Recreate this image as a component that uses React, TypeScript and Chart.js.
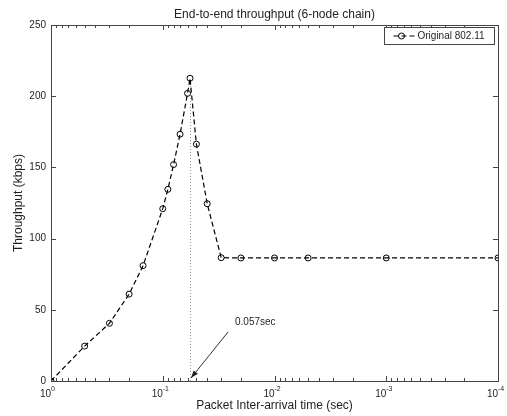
import React, { useEffect, useRef } from 'react';
import { Chart, registerables } from 'chart.js';

Chart.register(...registerables);

// ---- data ----
const chartTitle = 'End-to-end throughput (6-node chain)';
const xAxisLabel = 'Packet Inter-arrival time (sec)';
const yAxisLabel = 'Throughput (kbps)';
const seriesLabel = 'Original 802.11';
const interArrival = [1, 0.5, 0.3, 0.2, 0.15, 0.1, 0.09, 0.08, 0.07, 0.06, 0.057, 0.05, 0.04, 0.03, 0.02, 0.01, 0.005, 0.001, 0.0001];
const throughput = [0, 24.5, 40.5, 61, 81, 121, 134.6, 152, 173.3, 202, 212.6, 166.3, 124.5, 86.6, 86.4, 86.4, 86.4, 86.4, 86.4];
const yTickValues = [0, 50, 100, 150, 200, 250];
const xDecadeExponents = [0, -1, -2, -3, -4];
const peakTime = 0.057;
const peakThroughput = 212.6;
const peakLabel = '0.057sec';

const FONT = '"Liberation Sans", Arial, Helvetica, sans-serif';
const TEXT = '#1e1e1e';
const AXIS = '#444';

const framePlugin = {
  id: 'matlabFrame',
  beforeDatasetsDraw(chart: any) {
    const { ctx, chartArea, scales } = chart;
    const x = scales.x, y = scales.y;
    // dotted vertical line at peak
    ctx.save();
    ctx.strokeStyle = '#9a9a9a';
    ctx.lineWidth = 1;
    ctx.setLineDash([1, 2]);
    const px = Math.round(x.getPixelForValue(peakTime)) + 0.5;
    ctx.beginPath();
    ctx.moveTo(px, y.getPixelForValue(0));
    ctx.lineTo(px, y.getPixelForValue(peakThroughput) + 3);
    ctx.stroke();
    ctx.restore();
  },
  afterDraw(chart: any) {
    const { ctx, chartArea, scales } = chart;
    const x = scales.x, y = scales.y;
    const { left, right, top, bottom } = chartArea;
    ctx.save();
    ctx.strokeStyle = AXIS;
    ctx.lineWidth = 1;
    ctx.setLineDash([]);
    // frame
    ctx.strokeRect(Math.round(left) + 0.5, Math.round(top) + 0.5, Math.round(right - left), Math.round(bottom - top));
    // y ticks
    ctx.beginPath();
    for (const v of yTickValues) {
      const py = Math.round(y.getPixelForValue(v)) + 0.5;
      ctx.moveTo(left, py); ctx.lineTo(left + 5, py);
      ctx.moveTo(right, py); ctx.lineTo(right - 5, py);
    }
    // x ticks (major + minor)
    for (const e of xDecadeExponents) {
      const base = Math.pow(10, e);
      const pxm = Math.round(x.getPixelForValue(base)) + 0.5;
      ctx.moveTo(pxm, bottom); ctx.lineTo(pxm, bottom - 5);
      ctx.moveTo(pxm, top); ctx.lineTo(pxm, top + 5);
      if (e > -4) {
        for (let m = 2; m <= 9; m++) {
          const v = m * base / 10;
          const p = Math.round(x.getPixelForValue(v)) + 0.5;
          ctx.moveTo(p, bottom); ctx.lineTo(p, bottom - 3);
          ctx.moveTo(p, top); ctx.lineTo(p, top + 3);
        }
      }
    }
    ctx.stroke();

    // x tick labels 10^k
    ctx.fillStyle = TEXT;
    ctx.textBaseline = 'alphabetic';
    for (const e of xDecadeExponents) {
      const p = x.getPixelForValue(Math.pow(10, e));
      ctx.font = `10px ${FONT}`;
      ctx.textAlign = 'right';
      ctx.fillText('10', p, bottom + 16);
      ctx.font = `7px ${FONT}`;
      ctx.textAlign = 'left';
      ctx.fillText(String(e), p, bottom + 10);
    }

    // title
    ctx.font = `12px ${FONT}`;
    ctx.textAlign = 'center';
    ctx.fillText(chartTitle, (left + right) / 2, top - 7);

    // annotation arrow
    const hx = x.getPixelForValue(peakTime) + 1;
    const hy = y.getPixelForValue(0) - 3;
    const tx = hx + 37, ty = hy - 46;
    ctx.strokeStyle = '#333';
    ctx.beginPath();
    ctx.moveTo(tx, ty); ctx.lineTo(hx, hy);
    ctx.stroke();
    const ang = Math.atan2(hy - ty, hx - tx);
    ctx.fillStyle = '#222';
    ctx.beginPath();
    ctx.moveTo(hx, hy);
    ctx.lineTo(hx - 8 * Math.cos(ang - 0.35), hy - 8 * Math.sin(ang - 0.35));
    ctx.lineTo(hx - 8 * Math.cos(ang + 0.35), hy - 8 * Math.sin(ang + 0.35));
    ctx.closePath();
    ctx.fill();
    ctx.fillStyle = TEXT;
    ctx.font = `10px ${FONT}`;
    ctx.textAlign = 'left';
    ctx.textBaseline = 'middle';
    ctx.fillText(peakLabel, hx + 44, hy - 56);

    // legend
    const lx = Math.round(right) - 114 + 0.5, ly = Math.round(top) + 2 + 0.5;
    ctx.fillStyle = '#fff';
    ctx.fillRect(lx, ly, 110, 17);
    ctx.strokeStyle = AXIS;
    ctx.strokeRect(lx, ly, 110, 17);
    const cy = ly + 8.5;
    ctx.strokeStyle = '#000';
    ctx.setLineDash([5, 3]);
    ctx.beginPath();
    ctx.moveTo(lx + 9, cy); ctx.lineTo(lx + 30, cy);
    ctx.stroke();
    ctx.setLineDash([]);
    ctx.beginPath();
    ctx.arc(lx + 17, cy, 3, 0, Math.PI * 2);
    ctx.stroke();
    ctx.fillStyle = TEXT;
    ctx.font = `10px ${FONT}`;
    ctx.textAlign = 'left';
    ctx.textBaseline = 'middle';
    ctx.fillText(seriesLabel, lx + 33, cy + 0.5);
    ctx.restore();
  },
};

export default function App() {
  const ref = useRef<HTMLCanvasElement | null>(null);
  useEffect(() => {
    if (!ref.current) return;
    const chart = new Chart(ref.current, {
      type: 'line',
      data: {
        datasets: [
          {
            label: seriesLabel,
            data: interArrival.map((t, i) => ({ x: t, y: throughput[i] })),
            borderColor: '#000',
            borderWidth: 1.2,
            borderDash: [5, 3],
            pointRadius: 3,
            pointBorderColor: '#000',
            pointBackgroundColor: 'rgba(255,255,255,0)',
            pointBorderWidth: 1,
            tension: 0,
            fill: false,
          },
        ],
      },
      options: {
        responsive: false,
        animation: false,
        events: [],
        layout: { padding: { left: 0, right: 9, top: 25, bottom: 0 } },
        plugins: {
          legend: { display: false },
          title: { display: false },
          tooltip: { enabled: false },
        },
        scales: {
          x: {
            type: 'logarithmic',
            reverse: true,
            min: 1e-4,
            max: 1,
            grid: { display: false, drawTicks: false },
            border: { display: false },
            ticks: { display: false },
            title: {
              display: true,
              text: xAxisLabel,
              color: TEXT,
              font: { size: 12, family: FONT },
              padding: { top: 0, bottom: 3 },
            },
            afterFit: (s: any) => { s.height = 35; },
          },
          y: {
            type: 'linear',
            min: 0,
            max: 250,
            grid: { display: false, drawTicks: false },
            border: { display: false },
            ticks: {
              stepSize: 50,
              padding: 5,
              color: TEXT,
              font: { size: 10, family: FONT },
            },
            title: {
              display: true,
              text: yAxisLabel,
              color: TEXT,
              font: { size: 12, family: FONT },
              padding: { top: 11, bottom: 0 },
            },
            afterFit: (s: any) => { s.width = 51; },
          },
        },
      },
      plugins: [framePlugin],
    } as any);
    return () => chart.destroy();
  }, []);
  return (
    <div style={{ position: 'absolute', left: 0, top: 0, width: 507, height: 416, background: '#fff' }}>
      <canvas ref={ref} width={507} height={416} style={{ display: 'block' }} />
    </div>
  );
}
